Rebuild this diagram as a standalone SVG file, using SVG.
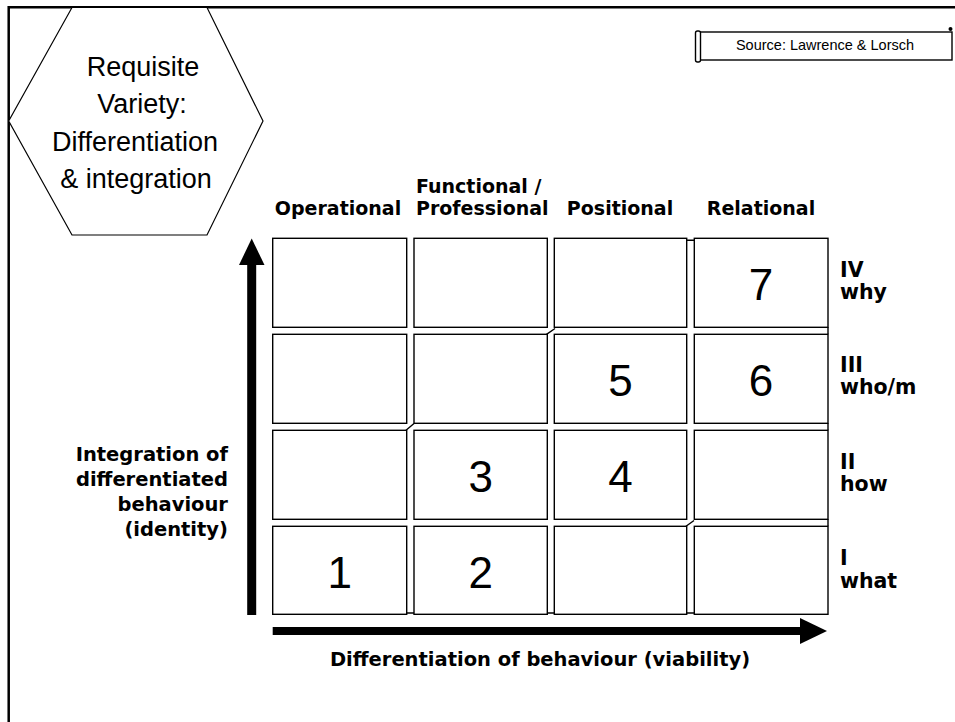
<svg xmlns="http://www.w3.org/2000/svg" width="955" height="722" viewBox="0 0 955 722">
<style>
.cell{fill:#fff;stroke:#000;stroke-width:1.4}
.thin{fill:none;stroke:#000;stroke-width:1.4}
.num{font-family:"Liberation Sans",Arial,sans-serif;font-size:44px;text-anchor:middle;fill:#000}
.hex{font-family:"Liberation Sans",Arial,sans-serif;font-size:27px;text-anchor:middle;fill:#000}
.hdr{font-family:"DejaVu Sans",Verdana,sans-serif;font-weight:bold;font-size:19px;fill:#000}
.lab{font-family:"DejaVu Sans",Verdana,sans-serif;font-weight:bold;font-size:19.5px;fill:#000}
.rl{font-family:"DejaVu Sans",Verdana,sans-serif;font-weight:bold;font-size:20.5px;fill:#000}
.src{font-family:"Liberation Sans",Arial,sans-serif;font-size:14.5px;text-anchor:middle;fill:#000}
</style>
<rect width="955" height="722" fill="#fff"/>
<path d="M8.7,722 V7.2 H955" fill="none" stroke="#000" stroke-width="2.5"/>

<g id="title">
<polygon points="72,7.5 207,7.5 263,121 207,235 72,235 8.7,121" fill="#fff" stroke="#000" stroke-width="1.2"/>
<text class="hex" x="143" y="76">Requisite</text>
<text class="hex" x="142" y="113">Variety:</text>
<text class="hex" x="135" y="151">Differentiation</text>
<text class="hex" x="136" y="188">&amp; integration</text>
</g>

<g id="source">
<rect x="698" y="32" width="254" height="28" fill="#fff" stroke="#000" stroke-width="1.4"/>
<rect x="695.5" y="31" width="5" height="31" rx="2" fill="#fff" stroke="#000" stroke-width="1.4"/>
<circle cx="950.5" cy="29" r="2" fill="#000"/>
<text class="src" x="825" y="50">Source: Lawrence &amp; Lorsch</text>
</g>

<g id="col-headers">
<text class="hdr" x="338" y="215" text-anchor="middle">Operational</text>
<text class="hdr" x="416" y="193">Functional /</text>
<text class="hdr" x="416" y="215">Professional</text>
<text class="hdr" x="620" y="215" text-anchor="middle">Positional</text>
<text class="hdr" x="761" y="215" text-anchor="middle">Relational</text>
</g>

<g id="row-labels">
<text class="rl" x="840" y="277">IV</text>
<text class="rl" x="840" y="299">why</text>
<text class="rl" x="840" y="372">III</text>
<text class="rl" x="840" y="394">who/m</text>
<text class="rl" x="840" y="469">II</text>
<text class="rl" x="840" y="491">how</text>
<text class="rl" x="840" y="565">I</text>
<text class="rl" x="840" y="588">what</text>
</g>

<g id="y-axis-label">
<text class="lab" x="228" y="461" text-anchor="end">Integration of</text>
<text class="lab" x="228" y="486" text-anchor="end">differentiated</text>
<text class="lab" x="228" y="511" text-anchor="end">behaviour</text>
<text class="lab" x="228" y="536" text-anchor="end">(identity)</text>
</g>

<g id="x-axis-label">
<text class="lab" x="540" y="666" text-anchor="middle">Differentiation of behaviour (viability)</text>
</g>

<!-- grid cells: row 1 (IV) -->
<g id="cell-IV-op"><rect class="cell" x="272.7" y="238.3" width="134" height="89"/></g>
<g id="cell-IV-fn"><rect class="cell" x="414" y="238.3" width="133.3" height="89"/></g>
<g id="cell-IV-pos"><rect class="cell" x="554.3" y="238.3" width="132.4" height="89"/></g>
<g id="cell-IV-rel"><rect class="cell" x="694.3" y="238.3" width="133.7" height="89"/><text class="num" x="761" y="300">7</text></g>
<!-- row 2 (III) -->
<g id="cell-III-op"><rect class="cell" x="272.7" y="334.3" width="134" height="89"/></g>
<g id="cell-III-fn"><rect class="cell" x="414" y="334.3" width="133.3" height="89"/></g>
<g id="cell-III-pos"><rect class="cell" x="554.3" y="334.3" width="132.4" height="89"/><text class="num" x="620.5" y="396">5</text></g>
<g id="cell-III-rel"><rect class="cell" x="694.3" y="334.3" width="133.7" height="89"/><text class="num" x="761" y="396">6</text></g>
<!-- row 3 (II) -->
<g id="cell-II-op"><rect class="cell" x="272.7" y="430.3" width="134" height="89"/></g>
<g id="cell-II-fn"><rect class="cell" x="414" y="430.3" width="133.3" height="89"/><text class="num" x="480.7" y="492">3</text></g>
<g id="cell-II-pos"><rect class="cell" x="554.3" y="430.3" width="132.4" height="89"/><text class="num" x="620.5" y="492">4</text></g>
<g id="cell-II-rel"><rect class="cell" x="694.3" y="430.3" width="133.7" height="89"/></g>
<!-- row 4 (I) -->
<g id="cell-I-op"><rect class="cell" x="272.7" y="526.3" width="134" height="88"/><text class="num" x="339.7" y="588">1</text></g>
<g id="cell-I-fn"><rect class="cell" x="414" y="526.3" width="133.3" height="88"/><text class="num" x="480.7" y="588">2</text></g>
<g id="cell-I-pos"><rect class="cell" x="554.3" y="526.3" width="132.4" height="88"/></g>
<g id="cell-I-rel"><rect class="cell" x="694.3" y="526.3" width="133.7" height="88"/></g>

<g id="grid-joins">
<path class="thin" d="M686.7,240.3 H694.3 M546.5,334.3 L555,328.5 M406,430.3 L414,423.5 M686,526.3 L694,520.5 M828,327.3 V334.3 M828,423.3 V430.3 M828,519.3 V526.3 M406.7,613 H414 M547.3,613 H554.3 M686.7,613 H694.3"/>
</g>

<g id="connectors">
<rect x="247.2" y="262" width="9" height="353" fill="#000"/>
<polygon points="251.7,238.5 264.5,265 239,265" fill="#000"/>
<rect x="272.7" y="627" width="530" height="8" fill="#000"/>
<polygon points="800,618 827,631 800,644" fill="#000"/>
</g>
</svg>
